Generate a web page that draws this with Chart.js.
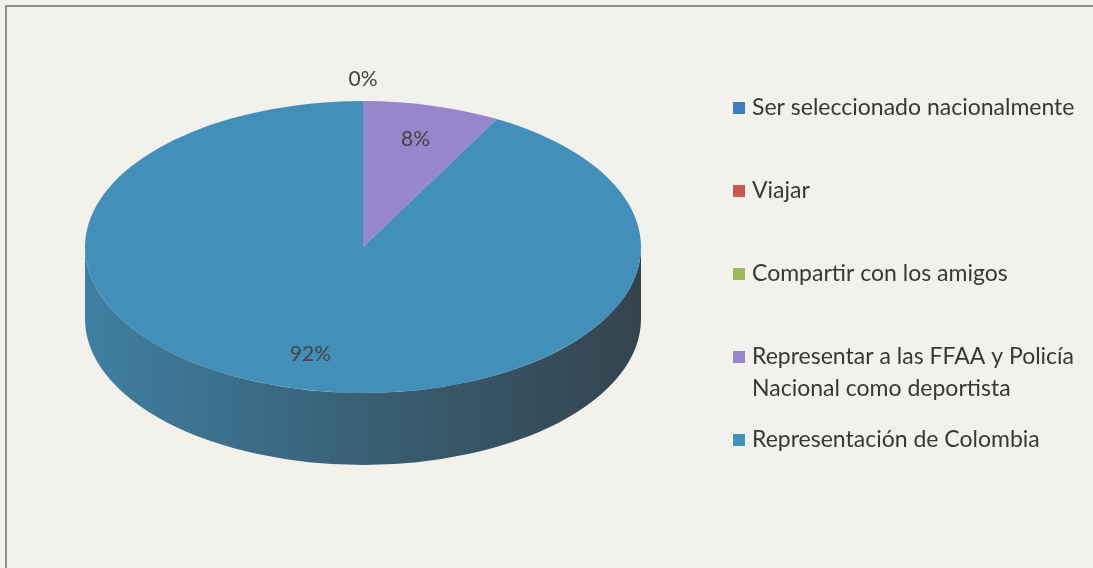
<!DOCTYPE html>
<html>
<head>
<meta charset="utf-8">
<script src="https://cdn.jsdelivr.net/npm/chart.js@4.4.1/dist/chart.umd.min.js"></script>
<style>
  html, body { margin: 0; padding: 0; background: #f2f1ec; overflow: hidden; }
  #wrap { position: relative; width: 1093px; height: 568px; }
  #marco { position: absolute; left: 5px; top: 5px; width: 1100px; height: 600px; border: 2px solid #8e8e8e; box-sizing: border-box; }
  canvas { position: absolute; left: 0; top: 0; }
</style>
</head>
<body>
<div id="wrap">
  <div id="marco"></div>
  <canvas id="grafico" width="1093" height="568"></canvas>
</div>
<script>
// Datos del gráfico
const categorias = [
  'Ser seleccionado nacionalmente',
  'Viajar',
  'Compartir con los amigos',
  'Representar a las FFAA y Policía\nNacional como deportista',
  'Representación de Colombia'
];
const porcentajes = [0, 0, 0, 8, 92];
const colores = ['#3f7cc0', '#c65752', '#9bb85a', '#9786cc', '#4290b9'];

// Parámetros del efecto 3D
const INCLINACION = 0.525;  // radio vertical / radio horizontal
const PROFUNDIDAD = 72;
const CENTRO_Y = 247;
const SOMBRA = [51, 61, 68];

function mezclar(hex, t) {
  const n = parseInt(hex.slice(1), 16);
  const c = [(n >> 16) & 255, (n >> 8) & 255, n & 255];
  return 'rgb(' + c.map((v, i) => Math.round(v * (1 - t) + SOMBRA[i] * t)).join(',') + ')';
}

const pastel3d = {
  id: 'pastel3d',
  beforeDatasetsDraw(chart) {
    const ctx = chart.ctx;
    const arcos = chart.getDatasetMeta(0).data;
    const cx = arcos[0].x, cyc = arcos[0].y, r = arcos[0].outerRadius;
    const ry = r * INCLINACION;

    // pared lateral: solo la mitad frontal (ángulos 0..PI)
    arcos.forEach((arco, i) => {
      const a0 = Math.max(arco.startAngle, 0);
      const a1 = Math.min(arco.endAngle, Math.PI);
      if (a1 <= a0) return;
      const grad = ctx.createLinearGradient(cx - r, 0, cx + r, 0);
      grad.addColorStop(0, mezclar(colores[i], 0.2));
      grad.addColorStop(0.5, mezclar(colores[i], 0.58));
      grad.addColorStop(1, mezclar(colores[i], 0.92));
      ctx.save();
      ctx.beginPath();
      ctx.ellipse(cx, CENTRO_Y, r, ry, 0, a0, a1);
      ctx.lineTo(cx + r * Math.cos(a1), CENTRO_Y + PROFUNDIDAD + ry * Math.sin(a1));
      ctx.ellipse(cx, CENTRO_Y + PROFUNDIDAD, r, ry, 0, a1, a0, true);
      ctx.closePath();
      ctx.fillStyle = grad;
      ctx.fill();
      ctx.restore();
    });

    // la cara superior se aplana con una escala vertical
    ctx.save();
    ctx.translate(0, CENTRO_Y);
    ctx.scale(1, INCLINACION);
    ctx.translate(0, -cyc);
  },
  afterDatasetsDraw(chart) {
    const ctx = chart.ctx;
    ctx.restore();

    const arcos = chart.getDatasetMeta(0).data;
    const total = porcentajes.reduce((a, b) => a + b, 0);
    const usados = new Set();
    ctx.save();
    ctx.font = '21px Lato';
    ctx.fillStyle = '#444';
    ctx.textAlign = 'center';
    ctx.textBaseline = 'middle';
    arcos.forEach((arco, i) => {
      const medio = (arco.startAngle + arco.endAngle) / 2;
      const f = porcentajes[i] === 0 ? 1.15 : 0.76;
      const x = arco.x + f * arco.outerRadius * Math.cos(medio);
      const y = CENTRO_Y + f * arco.outerRadius * INCLINACION * Math.sin(medio);
      const clave = Math.round(x) + ',' + Math.round(y);
      if (usados.has(clave)) return;
      usados.add(clave);
      ctx.fillText(Math.round(porcentajes[i] / total * 100) + '%', x, y);
    });
    ctx.restore();
  }
};

// leyenda dibujada a mano para permitir etiquetas en dos líneas
const leyenda = {
  id: 'leyendaDerecha',
  afterDraw(chart) {
    const ctx = chart.ctx;
    ctx.save();
    ctx.font = '23px Lato';
    ctx.textBaseline = 'middle';
    categorias.forEach((txt, i) => {
      const y = 108 + i * 83;
      ctx.fillStyle = colores[i];
      ctx.fillRect(733, y - 6, 12, 12);
      ctx.fillStyle = '#383838';
      txt.split('\n').forEach((linea, k) => {
        ctx.fillText(linea, 752, y + k * 32);
      });
    });
    ctx.restore();
  }
};

new Chart(document.getElementById('grafico'), {
  type: 'pie',
  data: {
    labels: categorias,
    datasets: [{
      data: porcentajes,
      backgroundColor: colores,
      borderWidth: 0,
      clip: false
    }]
  },
  options: {
    responsive: false,
    animation: false,
    layout: { padding: { left: 85, right: 452, top: 6, bottom: 6 } },
    plugins: {
      legend: { display: false },
      tooltip: { enabled: false }
    }
  },
  plugins: [pastel3d, leyenda]
});
</script>
</body>
</html>
